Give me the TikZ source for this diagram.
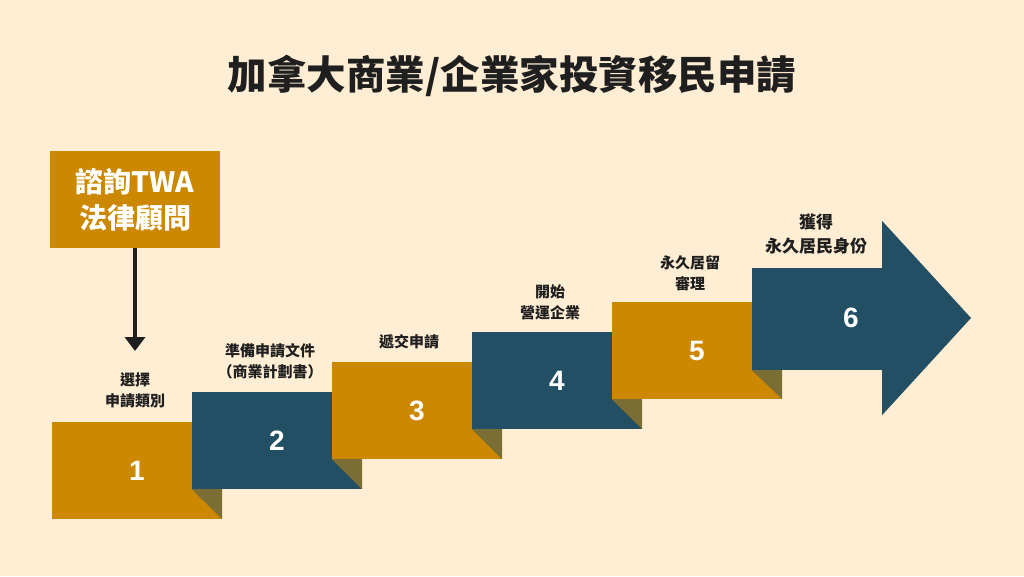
\documentclass[tikz,border=0pt]{standalone}
\usepackage{fontspec}
\setmainfont{Noto Sans CJK TC}
\newfontfamily\numfont{Liberation Sans}
\usetikzlibrary{arrows.meta}
\definecolor{paper}{HTML}{FFEED4}
\definecolor{gold}{HTML}{CC8800}
\definecolor{deepteal}{HTML}{224F63}
\definecolor{foldcol}{HTML}{7A6E34}
\definecolor{ink}{HTML}{1F1F1F}

\begin{document}
\begin{tikzpicture}[x=1pt, y=-1pt,
	stepbox/.style={rectangle, inner sep=0pt, minimum width=170pt, minimum height=97pt, text=white, font=\numfont\fontsize{28}{28}\selectfont\bfseries},
	goldbox/.style={stepbox, fill=gold},
	tealbox/.style={stepbox, fill=deepteal},
	steplabel/.style={align=center, text=ink, font=\fontsize{15}{21}\selectfont\bfseries},
	fold/.style={fill=foldcol}]
		\fill[paper] (0,0) rectangle (1024,576);
		\useasboundingbox (0,0) rectangle (1024,576);
		\node[text=ink, font=\fontsize{39.5}{40}\selectfont\bfseries] (title) at (512,76) {加拿大商業/企業家投資移民申請};
		
		\node[goldbox, align=center, minimum height=97pt, font=\fontsize{28}{36}\selectfont\bfseries] (c) at (135,199.5) {諮詢TWA\\法律顧問};
		\coordinate (a) at (135,351);
		\draw[-{Triangle[width=20pt, length=14pt]}, line width=4pt, ink] (c) -- (a);
		
		\node[goldbox] (s1) at (137,470.5) {1};
		\node[tealbox] (s2) at (277,440.5) {2};
		\node[goldbox] (s3) at (417,410.5) {3};
		\node[tealbox] (s4) at (557,380.5) {4};
		\node[goldbox] (s5) at (697,350.5) {5};
		\node[tealbox, minimum width=130pt, minimum height=102pt] (s6) at (817,319) {};
		\coordinate (tip) at (971,318);
		\fill[deepteal] (s6.north east) -- (s6.east |- 0,221) -- (tip) -- (s6.east |- 0,415) -- (s6.south east) -- cycle;
		\node[text=white, font=\numfont\fontsize{28}{28}\selectfont\bfseries] (n6) at (851,318) {6};
		
		\fill[fold] (s2.south west) -- (s1.east |- s2.south) -- (s1.south east) -- cycle;
		\fill[fold] (s3.south west) -- (s2.east |- s3.south) -- (s2.south east) -- cycle;
		\fill[fold] (s4.south west) -- (s3.east |- s4.south) -- (s3.south east) -- cycle;
		\fill[fold] (s5.south west) -- (s4.east |- s5.south) -- (s4.south east) -- cycle;
		\fill[fold] (s6.south west) -- (s5.east |- s6.south) -- (s5.south east) -- cycle;
		
		\node[steplabel] (l1) at (135,390.5) {選擇\\申請類別};
		\node[steplabel] (l2) at (270,361) {準備申請文件\\（商業計劃書）};
		\node[steplabel] (l3) at (409,342) {遞交申請};
		\node[steplabel] (l4) at (550,302) {開始\\營運企業};
		\node[steplabel] (l5) at (690,273) {永久居留\\審理};
		\node[steplabel, font=\fontsize{17}{24}\selectfont\bfseries] (l6) at (816,234) {獲得\\永久居民身份};
	\end{tikzpicture}
\end{document}
